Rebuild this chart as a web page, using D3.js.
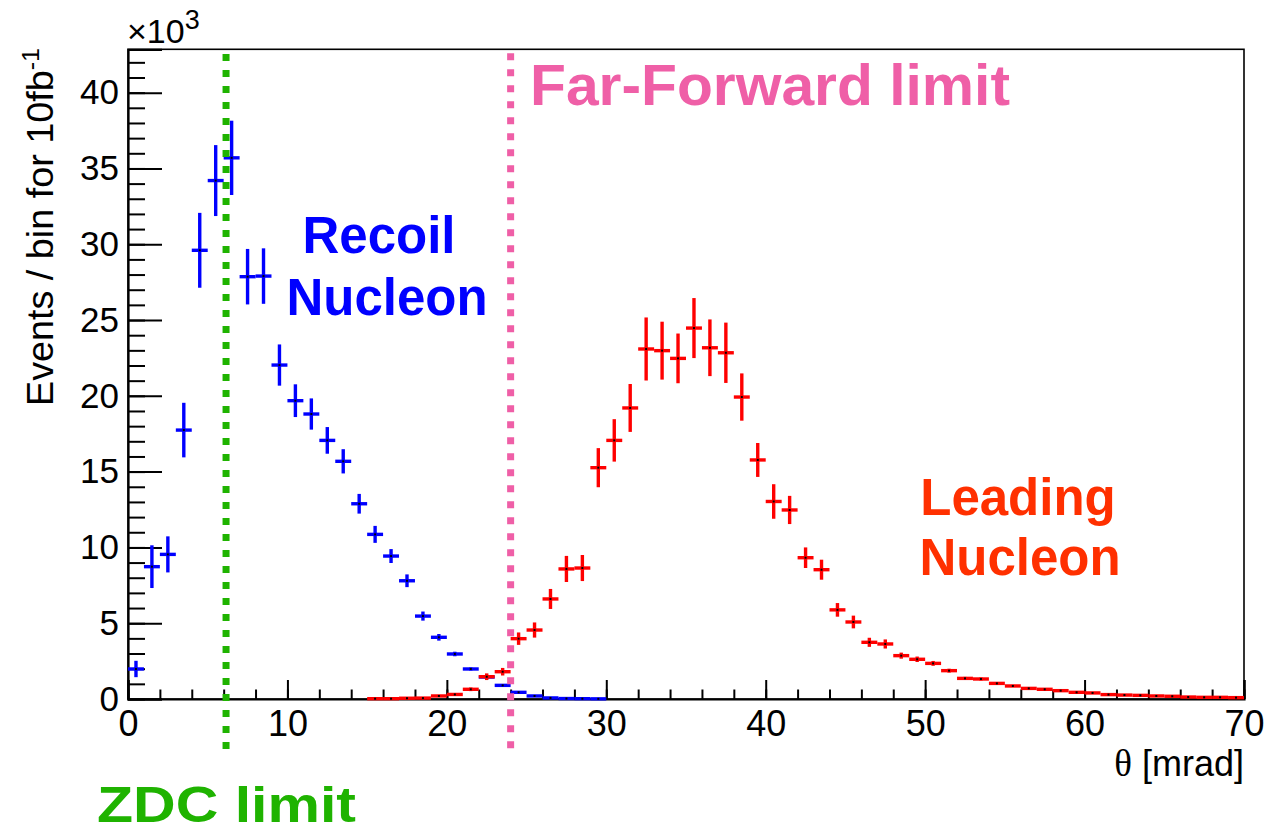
<!DOCTYPE html>
<html>
<head>
<meta charset="utf-8">
<script src="https://cdn.jsdelivr.net/npm/d3@7"></script>
<style>
  html, body { margin: 0; padding: 0; background: #fff; }
  svg { display: block; }
  text { font-family: "Liberation Sans", Arial, Helvetica, sans-serif; }
</style>
</head>
<body>
<svg id="chart" width="1270" height="833"></svg>
<script>
// ---- data (values in units of 10^3 events / bin) ----
const blueBinCenters = [0.5,1.5,2.5,3.5,4.5,5.5,6.5,7.5,8.5,9.5,10.5,11.5,12.5,13.5,14.5,15.5,16.5,17.5,18.5,19.5,20.5,21.5,22.5,23.5,24.5,25.5,26.5,27.5,28.5,29.5];
const blueValues = [1.98,8.73,9.54,17.74,29.6,34.2,35.7,27.86,27.9,22.03,19.68,18.8,17.06,15.68,12.88,10.86,9.43,7.8,5.47,4.07,2.97,1.98,1.45,0.9,0.44,0.2,0.07,0.03,0.02,0.01];
const blueErrors = [0.54,1.41,1.19,1.8,2.47,2.34,2.45,1.83,1.83,1.36,1.08,1.03,0.88,0.8,0.65,0.56,0.46,0.42,0.3,0.22,0.15,0.1,0.08,0.06,0.04,0.02,0.01,0.01,0.01,0.01];

const redBinCenters = [15.5,16.5,17.5,18.5,19.5,20.5,21.5,22.5,23.5,24.5,25.5,26.5,27.5,28.5,29.5,30.5,31.5,32.5,33.5,34.5,35.5,36.5,37.5,38.5,39.5,40.5,41.5,42.5,43.5,44.5,45.5,46.5,47.5,48.5,49.5,50.5,51.5,52.5,53.5,54.5,55.5,56.5,57.5,58.5,59.5,60.5,61.5,62.5,63.5,64.5,65.5,66.5,67.5,68.5,69.5];
const redValues = [0.02,0.02,0.05,0.06,0.2,0.3,0.64,1.47,1.8,3.98,4.55,6.6,8.58,8.64,15.26,17.06,19.2,23.09,22.98,22.47,24.47,23.17,22.84,19.92,15.77,13.03,12.47,9.32,8.53,5.88,5.08,3.74,3.63,2.86,2.62,2.35,1.87,1.36,1.32,1.03,0.86,0.7,0.64,0.55,0.44,0.4,0.29,0.26,0.24,0.2,0.18,0.13,0.11,0.11,0.09];
const redErrors = [0.01,0.01,0.02,0.02,0.05,0.07,0.12,0.22,0.25,0.41,0.5,0.66,0.86,0.86,1.29,1.40,1.58,2.08,1.91,1.64,1.98,1.87,1.99,1.56,1.12,1.14,0.93,0.68,0.66,0.45,0.42,0.3,0.3,0.2,0.18,0.16,0.13,0.1,0.1,0.08,0.07,0.06,0.05,0.05,0.04,0.04,0.03,0.03,0.03,0.02,0.02,0.02,0.02,0.02,0.02];

const binWidth = 1;
const xMajorTicks = [0,10,20,30,40,50,60,70];
const xMinorTicks = [0,2,4,6,8,10,12,14,16,18,20,22,24,26,28,30,32,34,36,38,40,42,44,46,48,50,52,54,56,58,60,62,64,66,68,70];
const yMajorTicks = [0,5,10,15,20,25,30,35,40];
const yMinorTicks = [0,1,2,3,4,5,6,7,8,9,10,11,12,13,14,15,16,17,18,19,20,21,22,23,24,25,26,27,28,29,30,31,32,33,34,35,36,37,38,39,40,41,42];
const xDomain = [0, 70];
const yDomain = [0, 42.86];
const zdcLimit = 6.15;
const farForwardLimit = 24.0;

// ---- layout ----
const svg = d3.select("#chart");
const L = 128, R = 1244, T = 49.3, B = 699;
const x = d3.scaleLinear().domain(xDomain).range([L, R]);
const y = d3.scaleLinear().domain(yDomain).range([B, T]);

// frame
svg.append("rect").attr("x", L).attr("y", T).attr("width", R - L).attr("height", B - T)
  .attr("fill", "none").attr("stroke", "#000").attr("stroke-width", 1.6);

// x axis: minor ticks
svg.append("g").attr("transform", `translate(0,${B})`)
  .call(d3.axisBottom(x).tickValues(xMinorTicks).tickSize(-9.5).tickFormat(""))
  .call(g => g.select(".domain").remove())
  .call(g => g.selectAll("line").attr("stroke", "#000").attr("stroke-width", 2));
// x axis: major ticks + labels
svg.append("g").attr("transform", `translate(0,${B})`)
  .call(d3.axisBottom(x).tickValues(xMajorTicks).tickSize(-19).tickPadding(11).tickFormat(d3.format("d")))
  .call(g => g.select(".domain").attr("stroke", "#000").attr("stroke-width", 2.2))
  .call(g => g.selectAll("line").attr("stroke", "#000").attr("stroke-width", 2))
  .call(g => g.selectAll("text").attr("font-size", 36).attr("fill", "#000")
    .attr("font-family", "Liberation Sans, Arial, sans-serif").attr("dy", "0.71em"));

// y axis: minor ticks
svg.append("g").attr("transform", `translate(${L},0)`)
  .call(d3.axisLeft(y).tickValues(yMinorTicks).tickSize(-17).tickFormat(""))
  .call(g => g.select(".domain").remove())
  .call(g => g.selectAll("line").attr("stroke", "#000").attr("stroke-width", 2));
// y axis: major ticks + labels
svg.append("g").attr("transform", `translate(${L},0)`)
  .call(d3.axisLeft(y).tickValues(yMajorTicks).tickSize(-34).tickPadding(9).tickFormat(d3.format("d")))
  .call(g => g.select(".domain").attr("stroke", "#000").attr("stroke-width", 2.2))
  .call(g => g.selectAll("line").attr("stroke", "#000").attr("stroke-width", 2))
  .call(g => g.selectAll("text").attr("font-size", 35).attr("fill", "#000")
    .attr("font-family", "Liberation Sans, Arial, sans-serif"));

// x10^3
const exp = svg.append("text").attr("x", 127).attr("y", 43).attr("font-size", 34).attr("fill", "#000");
exp.append("tspan").text("×10");
exp.append("tspan").attr("dy", -14).attr("font-size", 27).text("3");

// axis titles
const xt = svg.append("text").attr("x", 1244).attr("y", 776).attr("text-anchor", "end")
  .attr("font-size", 36).attr("fill", "#000");
xt.append("tspan").attr("font-family", "Liberation Serif, Times New Roman, serif").attr("font-size", 37).text("θ");
xt.append("tspan").text(" [mrad]");

const yt = svg.append("text").attr("transform", "translate(53,48) rotate(-90)")
  .attr("text-anchor", "end").attr("font-size", 36).attr("fill", "#000")
  .attr("textLength", 358).attr("lengthAdjust", "spacingAndGlyphs");
yt.append("tspan").text("Events / bin for 10fb");
yt.append("tspan").attr("dy", -14).attr("font-size", 24).text("-1");

// ---- histograms with error bars ----
function drawHist(centers, values, errors, color) {
  const data = centers.map((c, i) => ({ c, v: values[i], e: errors[i] }));
  const g = svg.append("g");
  const m = g.selectAll("g").data(data).join("g");
  m.append("line")
    .attr("x1", d => x(d.c - binWidth / 2)).attr("x2", d => x(d.c + binWidth / 2))
    .attr("y1", d => y(d.v)).attr("y2", d => y(d.v))
    .attr("stroke", color).attr("stroke-width", 3.4);
  m.append("line")
    .attr("x1", d => x(d.c)).attr("x2", d => x(d.c))
    .attr("y1", d => y(d.v - d.e)).attr("y2", d => y(d.v + d.e))
    .attr("stroke", color).attr("stroke-width", 3.4);
  m.append("rect")
    .attr("x", d => x(d.c) - 1).attr("y", d => y(d.v) - 1)
    .attr("width", 2).attr("height", 2).attr("fill", "#000");
}
drawHist(blueBinCenters, blueValues, blueErrors, "#0000ff");
drawHist(redBinCenters, redValues, redErrors, "#ff0000");

// ---- limit lines ----
svg.append("line").attr("x1", x(zdcLimit)).attr("x2", x(zdcLimit)).attr("y1", 54).attr("y2", 749)
  .attr("stroke", "#1fb300").attr("stroke-width", 7).attr("stroke-dasharray", "7,9");
svg.append("line").attr("x1", x(farForwardLimit)).attr("x2", x(farForwardLimit)).attr("y1", 53.3).attr("y2", 749)
  .attr("stroke", "#ef5fa7").attr("stroke-width", 7).attr("stroke-dasharray", "7,9");

// ---- annotations ----
const recoil = svg.append("text").attr("text-anchor", "middle").attr("font-weight", "bold")
  .attr("font-size", 51).attr("fill", "#0000ff");
recoil.append("tspan").attr("x", 379).attr("y", 253).text("Recoil");
recoil.append("tspan").attr("x", 387).attr("y", 315).text("Nucleon");

const leading = svg.append("text").attr("text-anchor", "middle").attr("font-weight", "bold")
  .attr("font-size", 51).attr("fill", "#ff3000");
leading.append("tspan").attr("x", 1018).attr("y", 515).text("Leading");
leading.append("tspan").attr("x", 1020).attr("y", 575).text("Nucleon");

svg.append("text").attr("x", 530).attr("y", 105).attr("font-weight", "bold")
  .attr("font-size", 57).attr("fill", "#ef5fa7")
  .attr("textLength", 480).attr("lengthAdjust", "spacingAndGlyphs").text("Far-Forward limit");

svg.append("text").attr("x", 97).attr("y", 822).attr("font-weight", "bold")
  .attr("font-size", 50).attr("fill", "#1fb300")
  .attr("textLength", 259).attr("lengthAdjust", "spacingAndGlyphs").text("ZDC limit");
</script>
</body>
</html>
